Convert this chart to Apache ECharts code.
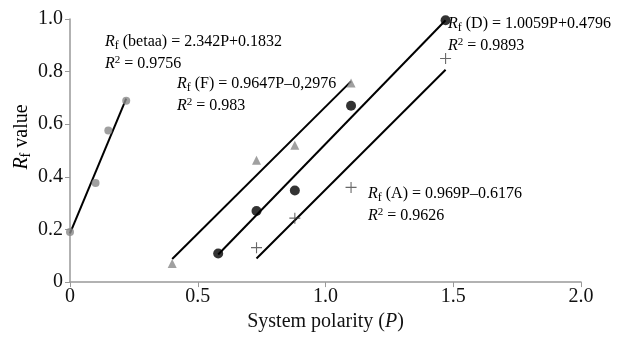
<!DOCTYPE html>
<html><head><meta charset="utf-8">
<script src="https://cdn.jsdelivr.net/npm/echarts@6/dist/echarts.min.js"></script>
<style>html,body{margin:0;padding:0;background:#fff}#c{width:625px;height:337px}</style>
</head><body><div id="c"></div>
<script>
// Data points (x = system polarity P, y = Rf)
const betaaPts = [[0, 0.19], [0.10, 0.377], [0.15, 0.576], [0.22, 0.689]];
const fPts = [[0.40, 0.071], [0.73, 0.463], [0.88, 0.52], [1.10, 0.757]];
const dPts = [[0.58, 0.109], [0.73, 0.27], [0.88, 0.348], [1.10, 0.67], [1.47, 0.995]];
const aPts = [[0.73, 0.131], [0.88, 0.243], [1.10, 0.36], [1.47, 0.85]];
// Fitted lines (end points)
const betaaFit = [[0, 0.185], [0.22, 0.697]];
const fFit = [[0.40, 0.088], [1.10, 0.763]];
const dFit = [[0.58, 0.105], [1.47, 0.995]];
const aFit = [[0.73, 0.09], [1.47, 0.807]];
const xTicks = ['0', '0.5', '1.0', '1.5', '2.0'];
const yTicks = ['0', '0.2', '0.4', '0.6', '0.8', '1.0'];

const FONT = 'Liberation Serif';
const chart = echarts.init(document.getElementById('c'));
const rich = {
  i: {fontFamily: FONT, fontStyle: 'italic', fontSize: 16, color: '#111'},
  s: {fontFamily: FONT, fontSize: 12, color: '#111', padding: [8, 0, 0, 0]},
  p: {fontFamily: FONT, fontSize: 11, color: '#111', padding: [0, 0, 7, 0]},
  t: {fontFamily: FONT, fontSize: 16, color: '#111'}
};
function ann(x, y, name, eq, r2) {
  return [
    {type: 'text', left: x, top: y, style: {text: '{i|R}{s|f}{t| (' + name + ') = ' + eq + '}', rich: rich}},
    {type: 'text', left: x, top: y + 21, style: {text: '{i|R}{p|2}{t| = ' + r2 + '}', rich: rich}}
  ];
}
const lineS = (d) => ({type: 'line', data: d, symbol: 'none', lineStyle: {color: '#000', width: 2}, z: 2});
chart.setOption({
  animation: false,
  grid: {left: 70, right: 44, top: 19, bottom: 51},
  xAxis: {
    type: 'value', min: 0, max: 2, interval: 0.5,
    name: 'System polarity ({ii|P})', nameLocation: 'middle', nameGap: 25,
    nameTextStyle: {fontFamily: FONT, fontSize: 20, color: '#111', rich: {ii: {fontFamily: FONT, fontSize: 20, fontStyle: 'italic', color: '#111'}}},
    axisLine: {lineStyle: {color: '#999', width: 1.5}},
    axisTick: {show: true, length: 5, lineStyle: {color: '#999'}},
    axisLabel: {fontFamily: FONT, fontSize: 20, color: '#111', margin: 5,
      formatter: (v) => xTicks[Math.round(v / 0.5)]},
    splitLine: {show: false}
  },
  yAxis: {
    type: 'value', min: 0, max: 1, interval: 0.2,
    axisLine: {show: true, lineStyle: {color: '#999', width: 1.5}},
    axisTick: {show: true, length: 5, lineStyle: {color: '#999'}},
    axisLabel: {fontFamily: FONT, fontSize: 20, color: '#111', margin: 7,
      formatter: (v) => yTicks[Math.round(v / 0.2)]},
    splitLine: {show: false}
  },
  series: [
    lineS(betaaFit), lineS(fFit), lineS(dFit), lineS(aFit),
    {type: 'scatter', data: betaaPts, symbol: 'circle', symbolSize: 8, itemStyle: {color: '#888'}, z: 3},
    {type: 'scatter', data: fPts, symbol: 'triangle', symbolSize: 9, itemStyle: {color: '#888'}, z: 3},
    {type: 'scatter', data: dPts, symbol: 'circle', symbolSize: 10, itemStyle: {color: '#000'}, z: 3},
    {type: 'scatter', data: aPts, symbol: 'path://M0,4.5h10v1h-10z M4.5,0h1v10h-1z', symbolSize: 11, itemStyle: {color: '#444'}, z: 3}
  ],
  graphic: [].concat(
    [{type: 'text', x: 22, y: 137, rotation: Math.PI / 2,
      style: {text: '{ii|R}{ss|f}{tt| value}', align: 'center', verticalAlign: 'middle', rich: {
        ii: {fontFamily: FONT, fontSize: 20, fontStyle: 'italic', color: '#111'},
        ss: {fontFamily: FONT, fontSize: 14, color: '#111', padding: [9, 0, 0, 0]},
        tt: {fontFamily: FONT, fontSize: 20, color: '#111'}
      }}}],
    ann(105, 34, 'betaa', '2.342P+0.1832', '0.9756'),
    ann(177, 76, 'F', '0.9647P\u20130,2976', '0.983'),
    ann(448, 16, 'D', '1.0059P+0.4796', '0.9893'),
    ann(368, 186, 'A', '0.969P\u20130.6176', '0.9626')
  )
});
</script></body></html>
